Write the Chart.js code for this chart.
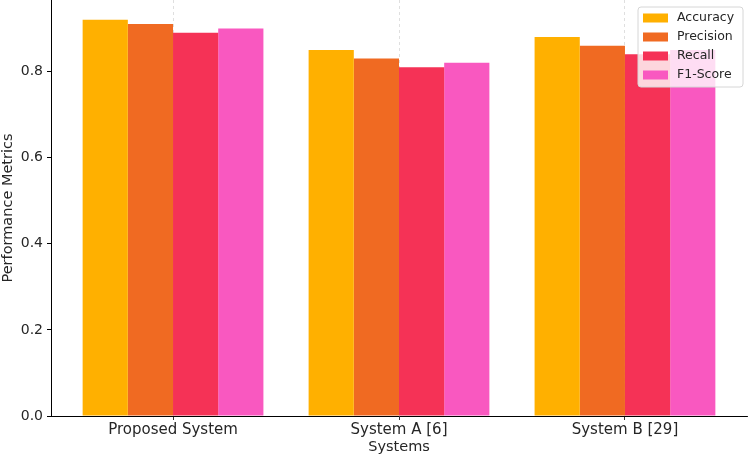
<!DOCTYPE html>
<html>
<head>
<meta charset="utf-8">
<script src="https://cdn.jsdelivr.net/npm/chart.js@4"></script>
<style>
  html, body { margin: 0; padding: 0; background: #fff; }
  #wrap { width: 749px; height: 457px; }
</style>
</head>
<body>
<div id="wrap"><canvas id="perfChart"></canvas></div>
<script>
// Data
const systems = ["Proposed System", "System A [6]", "System B [29]"];
const metricNames = ["Accuracy", "Precision", "Recall", "F1-Score"];
const accuracy = [0.92, 0.85, 0.88];
const precision = [0.91, 0.83, 0.86];
const recall = [0.89, 0.81, 0.84];
const f1Score = [0.90, 0.82, 0.85];
const yTicks = [0.0, 0.2, 0.4, 0.6, 0.8];

const seriesValues = [accuracy, precision, recall, f1Score];
const colors = ["#FFB000", "#F06A22", "#F53256", "#F958C0"];
const textColor = "#262626";
const fontFamily = "'DejaVu Sans', sans-serif";

// Legend drawn inside the plot, top right (matplotlib style)
const innerLegend = {
  id: "innerLegend",
  afterDraw(chart) {
    const ctx = chart.ctx;
    const area = chart.chartArea;
    const w = 105, h = 80;
    const x0 = area.right - w - 4;
    const y0 = area.top + 7;
    ctx.save();
    ctx.beginPath();
    ctx.roundRect(x0, y0, w, h, 3);
    ctx.fillStyle = "rgba(255,255,255,0.8)";
    ctx.fill();
    ctx.strokeStyle = "#d6d6d6";
    ctx.lineWidth = 1;
    ctx.stroke();
    ctx.font = "12.5px " + fontFamily;
    ctx.textBaseline = "middle";
    chart.data.datasets.forEach((ds, i) => {
      const cy = y0 + 11 + i * 19;
      ctx.fillStyle = ds.backgroundColor;
      ctx.fillRect(x0 + 5, cy - 4.5, 25, 9);
      ctx.fillStyle = textColor;
      ctx.fillText(ds.label, x0 + 39, cy);
    });
    ctx.restore();
  }
};

document.addEventListener("DOMContentLoaded", function () {
  const ctx = document.getElementById("perfChart").getContext("2d");

  new Chart(ctx, {
    type: "bar",
    data: {
      // numeric positions so the x axis can use matplotlib-like margins
      labels: systems.map((s, i) => i),
      datasets: metricNames.map((name, i) => ({
        label: name,
        data: seriesValues[i],
        backgroundColor: colors[i],
        borderWidth: 0,
        categoryPercentage: 0.8,
        barPercentage: 1.0
      }))
    },
    options: {
      responsive: true,
      maintainAspectRatio: false,
      animation: false,
      devicePixelRatio: 1,
      layout: { padding: { top: 0, right: 2, left: 0, bottom: 0 } },
      scales: {
        x: {
          type: "linear",
          min: -0.54,
          max: 2.54,
          offset: false,
          grid: {
            offset: false,
            drawOnChartArea: true,
            color: "rgba(0,0,0,0.16)",
            lineWidth: 0.8,
            tickLength: 4,
            tickColor: "#000",
            tickBorderDash: []
          },
          border: { display: true, color: "#000", width: 1, dash: [3, 3] },
          ticks: {
            stepSize: 1,
            includeBounds: false,
            autoSkip: false,
            color: textColor,
            font: { family: fontFamily, size: 15 },
            padding: 1,
            maxRotation: 0,
            callback: (v) => (Number.isInteger(v) && systems[v] !== undefined ? systems[v] : "")
          },
          title: {
            display: true,
            text: "Systems",
            color: textColor,
            font: { family: fontFamily, size: 14.5 },
            padding: { top: 1, bottom: 1 }
          },
          afterFit(scale) {
            scale.height = 41;
            scale.paddingLeft = 0;
            scale.paddingRight = 0;
          }
        },
        y: {
          min: 0,
          max: 0.966,
          grid: {
            drawOnChartArea: false,
            tickLength: 4,
            tickColor: "#000"
          },
          border: { display: true, color: "#000", width: 1 },
          ticks: {
            stepSize: 0.2,
            includeBounds: false,
            color: textColor,
            font: { family: fontFamily, size: 14 },
            padding: 4,
            callback: (v) => {
              const t = yTicks.find((k) => Math.abs(k - v) < 1e-6);
              return t === undefined ? "" : t.toFixed(1);
            }
          },
          title: {
            display: true,
            text: "Performance Metrics",
            color: textColor,
            font: { family: fontFamily, size: 14.5 },
            padding: { top: 0, bottom: 0 }
          },
          afterFit(scale) {
            scale.width = 51;
            scale.paddingTop = 0;
            scale.paddingBottom = 0;
          }
        }
      },
      plugins: {
        legend: { display: false },
        tooltip: { enabled: false }
      }
    },
    plugins: [innerLegend]
  });
});
</script>
</body>
</html>
